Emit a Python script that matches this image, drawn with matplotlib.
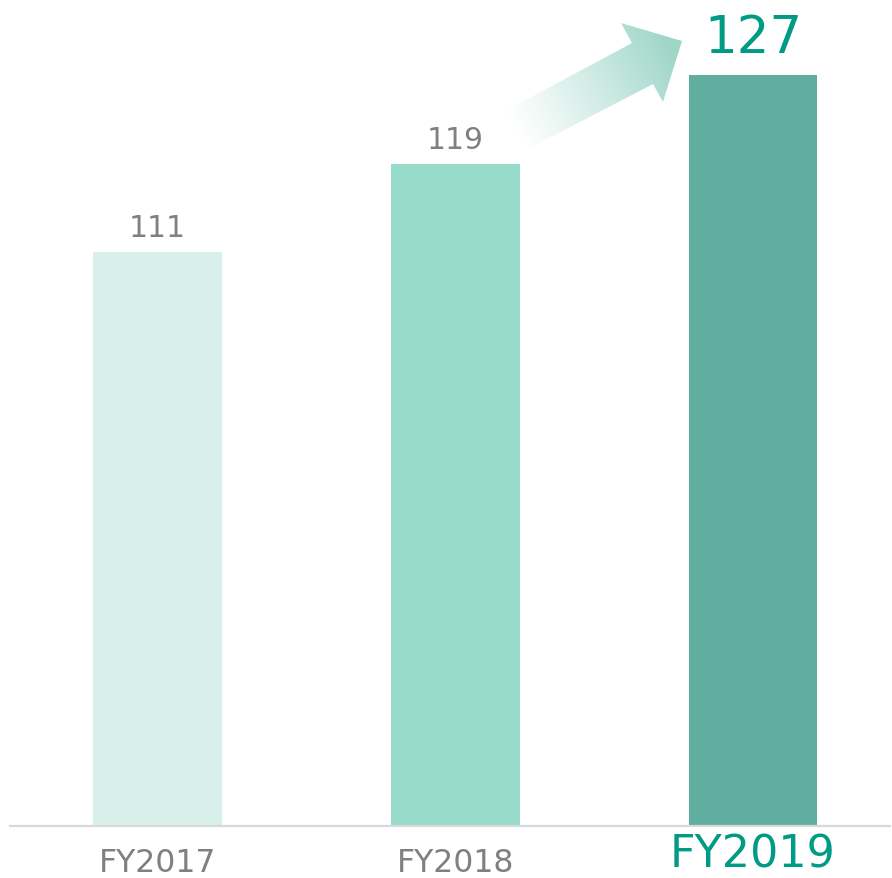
import matplotlib
matplotlib.use("Agg")
import matplotlib.pyplot as plt
import numpy as np
from matplotlib.patches import Polygon

categories = ["FY2017", "FY2018", "FY2019"]
values = [111, 119, 127]
bar_colors = ["#D7F0E9", "#97DCCB", "#5FAEA0"]
label_colors = ["#808080", "#808080", "#009B84"]
label_sizes = [21.5, 21.5, 37]
tick_sizes = [22.7, 22.7, 32]

W, H = 892, 879
fig = plt.figure(figsize=(W / 100, H / 100), dpi=100)
ax = fig.add_axes([10 / W, (H - 827) / H, 880 / W, 827 / H])

x = np.arange(len(categories))
ax.bar(x, values, width=0.433, color=bar_colors, zorder=2)
ax.set_xlim(-0.495, 2.46)
ax.set_ylim(59.1, 59.1 + 827 / 11.06)

for s in ["top", "right", "left"]:
    ax.spines[s].set_visible(False)
ax.spines["bottom"].set_color("#D9D9D9")
ax.spines["bottom"].set_linewidth(1.6)
ax.set_yticks([])
ax.set_xticks([])

xt = ax.get_xaxis_transform()
tick_offsets = [-32.4, -32.4, -29.5]
for xi, cat, c, s, o in zip(x, categories, label_colors, tick_sizes, tick_offsets):
    ax.annotate(cat, (xi, 0), xycoords=xt, xytext=(0, o), textcoords="offset points",
                ha="center", va="baseline", color=c, fontsize=s, annotation_clip=False)

offsets = [11.5, 11.5, 16.8]
for xi, v, c, s, o in zip(x, values, label_colors, label_sizes, offsets):
    ax.annotate(str(v), (xi, v), xytext=(0, o), textcoords="offset points",
                ha="center", va="baseline", color=c, fontsize=s, zorder=3)

# gradient arrow overlay (figure pixel coordinates)
ov = fig.add_axes([0, 0, 1, 1], zorder=5)
ov.set_xlim(0, W)
ov.set_ylim(H, 0)
ov.axis("off")
ov.patch.set_alpha(0)
pts = np.array([(505, 112), (632, 44), (621, 24), (682, 42), (663, 103), (653, 85), (528, 150)])
poly = Polygon(pts, closed=True, facecolor="none", edgecolor="none")
ov.add_patch(poly)
p0 = np.array([515.0, 130.0])
p1 = np.array([672.0, 50.0])
d = p1 - p0
xs = np.arange(480, 700)
ys = np.arange(0, 170)
XX, YY = np.meshgrid(xs, ys)
t = ((XX - p0[0]) * d[0] + (YY - p0[1]) * d[1]) / (d @ d)
t = np.clip(t, 0, 1)
rgba = np.zeros(XX.shape + (4,))
col = np.array([0x9E, 0xD6, 0xC8]) / 255
rgba[..., :3] = col
rgba[..., 3] = t ** 1.1
im = ov.imshow(rgba, extent=(480, 700, 170, 0), origin="upper", interpolation="bilinear")
im.set_clip_path(poly)
ov.set_xlim(0, W)
ov.set_ylim(H, 0)

fig.savefig("out.png", dpi=100, facecolor="white")
